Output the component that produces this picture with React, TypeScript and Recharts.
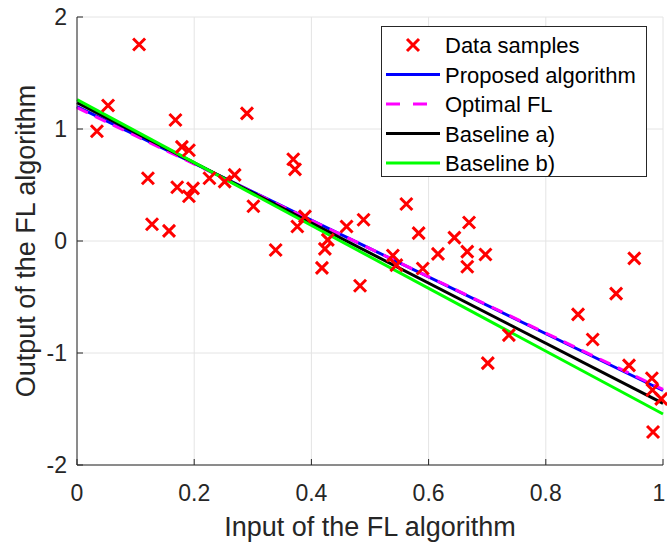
import {
  ComposedChart, Scatter, Line, XAxis, YAxis, CartesianGrid, Legend,
} from 'recharts'

const sampleX = [
  0.034, 0.053, 0.106, 0.121, 0.128, 0.157, 0.168, 0.171, 0.179, 0.191,
  0.191, 0.198, 0.226, 0.252, 0.269, 0.290, 0.301, 0.339, 0.369, 0.372,
  0.376, 0.389, 0.418, 0.423, 0.428, 0.460, 0.483, 0.489, 0.539, 0.545,
  0.562, 0.583, 0.590, 0.616, 0.644, 0.669, 0.666, 0.666, 0.697, 0.701,
  0.737, 0.855, 0.880, 0.920, 0.942, 0.951, 0.981, 0.982, 0.997, 0.983,
]
const sampleY = [
  0.98, 1.21, 1.755, 0.56, 0.15, 0.09, 1.08, 0.48, 0.84, 0.81,
  0.40, 0.47, 0.56, 0.53, 0.59, 1.14, 0.31, -0.08, 0.73, 0.64,
  0.13, 0.22, -0.24, -0.07, 0.01, 0.13, -0.40, 0.19, -0.13, -0.215,
  0.33, 0.07, -0.245, -0.115, 0.03, 0.165, -0.095, -0.23, -0.12, -1.09,
  -0.84, -0.655, -0.88, -0.47, -1.11, -0.155, -1.225, -1.33, -1.41, -1.705,
]

const lineX = [0, 1]
const proposedY = [1.2, -1.335]
const optimalY = [1.19, -1.325]
const baselineAY = [1.235, -1.45]
const baselineBY = [1.262, -1.545]

const xTicks = [0, 0.2, 0.4, 0.6, 0.8, 1]
const yTicks = [-2, -1, 0, 1, 2]

const samples = sampleX.map((x, i) => ({ x, y: sampleY[i] }))
const toLine = (ys: number[]) => lineX.map((x, i) => ({ x, y: ys[i] }))

const AX = '#262626'
const FONT = '"Liberation Sans", Arial, Helvetica, sans-serif'
const W = 667

const legendItems = [
  { name: 'Data samples', kind: 'marker', color: '#ff0000' },
  { name: 'Proposed algorithm', kind: 'line', color: '#0000ff' },
  { name: 'Optimal FL', kind: 'dash', color: '#ff00ff' },
  { name: 'Baseline a)', kind: 'line', color: '#000000' },
  { name: 'Baseline b)', kind: 'line', color: '#00ff00' },
]

function Cross({ cx, cy }: { cx?: number; cy?: number }) {
  if (cx == null || cy == null) return <g />
  const r = 6
  return (
    <path
      d={`M${cx - r},${cy - r}L${cx + r},${cy + r}M${cx + r},${cy - r}L${cx - r},${cy + r}`}
      stroke="#ff0000"
      strokeWidth={3}
      fill="none"
    />
  )
}

function BottomTick({ x, y, payload }: any) {
  // keep the last label inside the picture
  const tx = Math.min(x, W - 8)
  return (
    <g>
      <line x1={x} y1={y} x2={x} y2={y - 6} stroke={AX} />
      <text x={tx} y={y + 36} textAnchor="middle" fontSize={23} fill={AX} fontFamily={FONT}>
        {payload.value}
      </text>
    </g>
  )
}

function TopTick({ x, y }: any) {
  return <line x1={x} y1={y} x2={x} y2={y + 6} stroke={AX} />
}

function LeftTick({ x, y, payload }: any) {
  return (
    <g>
      <line x1={x} y1={y} x2={x + 6} y2={y} stroke={AX} />
      <text x={x - 10} y={y + 8} textAnchor="end" fontSize={23} fill={AX} fontFamily={FONT}>
        {payload.value}
      </text>
    </g>
  )
}

function RightTick({ x, y }: any) {
  return <line x1={x} y1={y} x2={x - 6} y2={y} stroke={AX} />
}

function LegendBox() {
  return (
    <div style={{ width: 264, height: 149, border: `1px solid ${AX}`, background: '#fff' }}>
      <svg width={264} height={149} style={{ display: 'block' }}>
        {legendItems.map((it, i) => {
          const base = 26 + 29.5 * i
          const ly = base - 8
          return (
            <g key={it.name}>
              {it.kind === 'marker' && <Cross cx={31} cy={ly} />}
              {it.kind === 'line' && (
                <line x1={4} y1={ly} x2={58} y2={ly} stroke={it.color} strokeWidth={3} />
              )}
              {it.kind === 'dash' && (
                <line x1={4} y1={ly} x2={58} y2={ly} stroke={it.color} strokeWidth={3} strokeDasharray="14 13" />
              )}
              <text x={63} y={base} fontSize={22} fill="#000" fontFamily={FONT}>{it.name}</text>
            </g>
          )
        })}
      </svg>
    </div>
  )
}

export default function App() {
  return (
    <div style={{ position: 'absolute', left: 0, top: 0, background: '#fff' }}>
      <ComposedChart
        width={W}
        height={542}
        margin={{ top: 17, right: 4, bottom: 0, left: 0 }}
        style={{ fontFamily: FONT }}
      >
        <CartesianGrid stroke="#e4e4e4" strokeWidth={1} />
        <XAxis
          type="number"
          dataKey="x"
          domain={[0, 1]}
          ticks={xTicks}
          height={77}
          axisLine={{ stroke: AX }}
          tickLine={false}
          tickSize={0}
          tickMargin={0}
          tick={<BottomTick />}
          interval={0}
          label={{
            content: () => (
              <text x={370} y={536} textAnchor="middle" fontSize={27} fill={AX} fontFamily={FONT}>
                Input of the FL algorithm
              </text>
            ),
          }}
        />
        <XAxis
          xAxisId="top"
          orientation="top"
          type="number"
          dataKey="x"
          domain={[0, 1]}
          ticks={xTicks}
          height={0}
          axisLine={{ stroke: AX }}
          tickLine={false}
          tickSize={0}
          tickMargin={0}
          tick={<TopTick />}
          interval={0}
        />
        <YAxis
          type="number"
          dataKey="y"
          domain={[-2, 2]}
          ticks={yTicks}
          width={77}
          axisLine={{ stroke: AX }}
          tickLine={false}
          tickSize={0}
          tickMargin={0}
          tick={<LeftTick />}
          interval={0}
          label={{
            content: () => (
              <text
                x={35}
                y={241}
                transform="rotate(-90, 35, 241)"
                textAnchor="middle"
                fontSize={27}
                fill={AX}
                fontFamily={FONT}
              >
                Output of the FL algorithm
              </text>
            ),
          }}
        />
        <YAxis
          yAxisId="right"
          orientation="right"
          type="number"
          dataKey="y"
          domain={[-2, 2]}
          ticks={yTicks}
          width={0}
          axisLine={{ stroke: AX }}
          tickLine={false}
          tickSize={0}
          tickMargin={0}
          tick={<RightTick />}
          interval={0}
        />
        <Scatter
          name="Data samples"
          data={samples}
          shape={<Cross />}
          isAnimationActive={false}
        />
        <Line data={toLine(proposedY)} dataKey="y" stroke="#0000ff" strokeWidth={3}
          dot={false} activeDot={false} isAnimationActive={false} />
        <Line data={toLine(optimalY)} dataKey="y" stroke="#ff00ff" strokeWidth={3}
          strokeDasharray="12 8" dot={false} activeDot={false} isAnimationActive={false} />
        <Line data={toLine(baselineAY)} dataKey="y" stroke="#000000" strokeWidth={3}
          dot={false} activeDot={false} isAnimationActive={false} />
        <Line data={toLine(baselineBY)} dataKey="y" stroke="#00ff00" strokeWidth={3}
          dot={false} activeDot={false} isAnimationActive={false} />
        <Legend
          layout="horizontal"
          verticalAlign="middle"
          align="center"
          wrapperStyle={{ left: 381, top: 26, width: 266, height: 151 }}
          content={<LegendBox />}
        />
      </ComposedChart>
    </div>
  )
}
